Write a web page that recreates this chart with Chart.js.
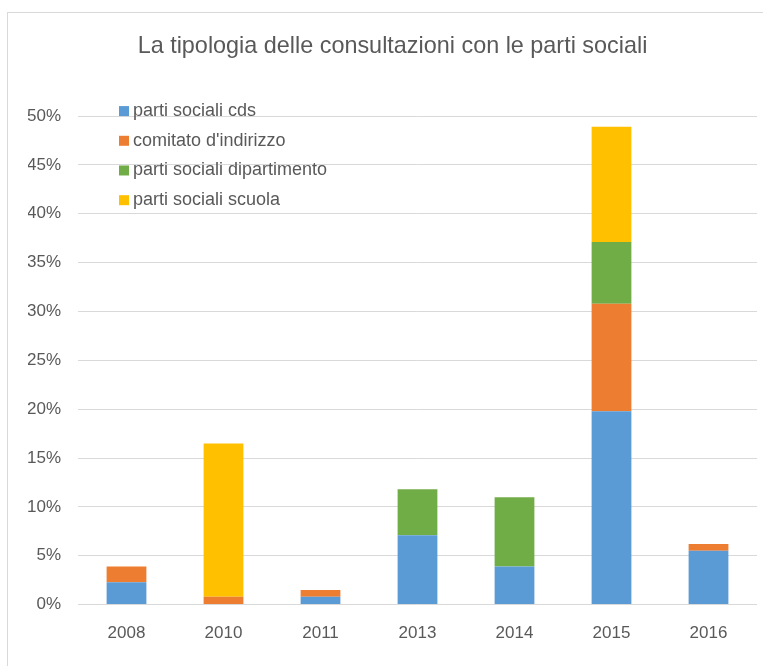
<!DOCTYPE html>
<html>
<head>
<meta charset="utf-8">
<script src="https://cdn.jsdelivr.net/npm/chart.js@4"></script>
<style>
  html, body { margin: 0; padding: 0; background: #fff; overflow: hidden; }
  #wrap { width: 763px; height: 666px; }
</style>
</head>
<body>
<div id="wrap"><canvas id="tipologiaGraph"></canvas></div>
<script>
// anni e quote (%)
const years = ["2008", "2010", "2011", "2013", "2014", "2015", "2016"];
const partiSocialiCds = [2.3, null, 0.8, 7.1, 3.9, 19.8, 5.5];
const comitatoIndirizzo = [1.6, 0.8, 0.7, null, null, 11.0, 0.7];
const partiSocialiDipartimento = [null, null, null, 4.7, 7.1, 6.3, null];
const partiSocialiScuola = [null, 15.7, null, null, null, 11.8, null];

const textColor = "#595959";
const fontFamily = "'Liberation Sans', Arial, sans-serif";

// outer frame of the excel chart (only left and top edges visible)
const framePlugin = {
    id: "frame",
    beforeDraw(chart) {
        const ctx = chart.ctx;
        ctx.save();
        ctx.fillStyle = "#fff";
        ctx.fillRect(0, 0, chart.width, chart.height);
        ctx.strokeStyle = "#d9d9d9";
        ctx.lineWidth = 1;
        ctx.strokeRect(7.5, 12.5, chart.width + 20, chart.height + 20);
        ctx.restore();
    },
};

// legend drawn inside the plot area, one item per row
const insideLegendPlugin = {
    id: "insideLegend",
    afterDraw(chart) {
        const ctx = chart.ctx;
        const area = chart.chartArea;
        ctx.save();
        ctx.font = "18px " + fontFamily;
        ctx.textBaseline = "middle";
        chart.data.datasets.forEach((ds, i) => {
            const y = area.top - 5 + i * 29.7;
            ctx.fillStyle = ds.backgroundColor;
            ctx.fillRect(area.left + 41, y - 5, 10, 10);
            ctx.fillStyle = textColor;
            ctx.fillText(ds.label, area.left + 55, y);
        });
        ctx.restore();
    },
};

const config = {
    type: "bar",
    data: {
        labels: years,
        datasets: [
            { label: "parti sociali cds", data: partiSocialiCds, backgroundColor: "#5B9BD5" },
            { label: "comitato d'indirizzo", data: comitatoIndirizzo, backgroundColor: "#ED7D31" },
            { label: "parti sociali dipartimento", data: partiSocialiDipartimento, backgroundColor: "#70AD47" },
            { label: "parti sociali scuola", data: partiSocialiScuola, backgroundColor: "#FFC000" },
        ],
    },
    options: {
        responsive: false,
        animation: false,
        layout: { padding: { top: 33, right: 6, bottom: 3, left: 28 } },
        datasets: { bar: { barPercentage: 0.41, categoryPercentage: 1 } },
        plugins: {
            legend: { display: false },
            tooltip: { enabled: false },
            title: {
                display: true,
                text: "La tipologia delle consultazioni con le parti sociali",
                color: textColor,
                font: { family: fontFamily, size: 23.4, weight: "normal" },
                padding: { top: 0, bottom: 55 },
            },
        },
        scales: {
            x: {
                stacked: true,
                grid: { display: false, drawTicks: false },
                border: { display: false },
                ticks: { color: textColor, font: { family: fontFamily, size: 17 }, padding: 19 },
            },
            y: {
                stacked: true,
                min: 0,
                max: 50,
                grid: { color: "#d9d9d9", drawTicks: false },
                border: { display: false },
                ticks: {
                    stepSize: 5,
                    color: textColor,
                    font: { family: fontFamily, size: 17 },
                    padding: 17,
                    callback: (value) => value + "%",
                },
                afterFit: (scale) => { scale.width = 50; },
            },
        },
    },
    plugins: [framePlugin, insideLegendPlugin],
};

const canvas = document.getElementById("tipologiaGraph");
canvas.width = 763;
canvas.height = 666;
const tipologiaGraph = new Chart(canvas, config);
</script>
</body>
</html>
